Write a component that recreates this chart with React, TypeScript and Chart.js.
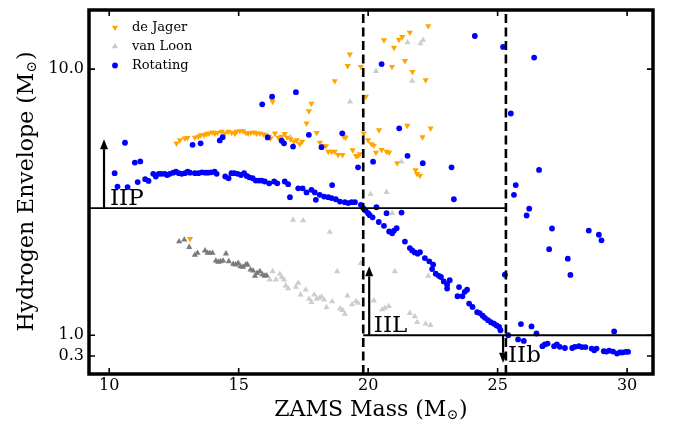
import React, { useEffect, useRef } from "react";
import { Chart, registerables } from "chart.js";

Chart.register(...registerables);

// ---------------- data ----------------
const xMin = 9.22;
const xMax = 31.0;
const yMin = -0.31;
const yMax = 12.0;
const xTicks = [10, 15, 20, 25, 30];
const yTicks = [0.3, 1.0, 10.0];

const deJager: [number, number][] = [
  [12.6, 7.49], [12.73, 7.6], [12.92, 7.66], [13.02, 7.68], [13.31, 7.69], [13.44, 7.72], [13.53, 7.77],
  [13.66, 7.77], [13.76, 7.81], [13.86, 7.83], [13.99, 7.86], [14.08, 7.83], [14.19, 7.85], [14.34, 7.89],
  [14.47, 7.83], [14.6, 7.89], [14.73, 7.85], [14.85, 7.83], [14.92, 7.89], [15.05, 7.91], [15.17, 7.91],
  [15.28, 7.85], [15.37, 7.83], [15.47, 7.85], [15.59, 7.86], [15.69, 7.83], [15.82, 7.83], [15.95, 7.8],
  [16.05, 7.77], [16.17, 7.72], [16.23, 7.66], [16.31, 8.9], [16.4, 7.83], [16.53, 7.69], [16.66, 7.72],
  [16.78, 7.81], [16.87, 7.69], [17.0, 7.63], [17.13, 7.55], [17.24, 7.6], [17.36, 7.47], [17.45, 7.55],
  [17.62, 8.17], [17.71, 8.58], [17.81, 8.84], [18.01, 7.85], [18.14, 7.52], [18.26, 7.4], [18.37, 7.4],
  [18.46, 7.21], [18.59, 7.21], [18.71, 7.21], [18.84, 7.1], [19.01, 7.1], [19.06, 7.72], [19.13, 7.69],
  [18.71, 9.6], [19.21, 10.11], [19.29, 10.5], [19.4, 7.26], [19.53, 7.07], [19.61, 7.07], [19.72, 10.08],
  [19.91, 9.07], [19.68, 7.13], [19.83, 7.83], [20.0, 7.6], [20.13, 7.47], [20.22, 7.42], [20.3, 7.18],
  [20.42, 7.94], [20.52, 7.27], [20.71, 7.21], [20.81, 7.18], [21.12, 6.82], [21.83, 6.59], [21.89, 6.46],
  [22.0, 6.4], [21.51, 8.09], [22.41, 8.0], [22.1, 7.7], [22.32, 11.46], [21.61, 11.24], [20.61, 10.98],
  [21.19, 11.0], [21.32, 11.09], [21.0, 10.73], [21.42, 10.28], [20.92, 10.08], [21.71, 9.91], [22.22, 9.63],
  [13.12, 4.26],
];

const vanLoonDark: [number, number][] = [
  [12.7, 4.17], [12.9, 4.23], [13.09, 3.98], [13.31, 3.72], [13.41, 3.78], [13.7, 3.86], [13.8, 3.78],
  [13.89, 3.78], [13.99, 3.78], [14.12, 3.52], [14.21, 3.48], [14.3, 3.5], [14.4, 3.52], [14.51, 3.76],
  [14.62, 3.5], [14.79, 3.41], [14.88, 3.39], [14.98, 3.44], [15.07, 3.33], [15.17, 3.31], [15.28, 3.39],
  [15.34, 3.39], [15.46, 3.22], [15.56, 3.18], [15.63, 3.01], [15.71, 3.1], [15.82, 3.16], [15.92, 3.05],
  [16.01, 3.01], [16.08, 3.02],
];

const vanLoonLight: [number, number][] = [
  [16.2, 2.88], [16.31, 3.16], [16.44, 2.88], [16.59, 3.07], [16.66, 2.96], [16.75, 2.88], [16.82, 2.68],
  [16.91, 2.58], [17.1, 4.9], [17.49, 4.88], [17.3, 2.77], [17.21, 2.63], [17.39, 2.37], [17.59, 2.54],
  [17.72, 2.23], [17.81, 2.12], [17.92, 2.37], [18.01, 2.23], [18.11, 2.26], [18.2, 2.3], [18.3, 2.2],
  [18.39, 1.94], [18.61, 2.14], [18.52, 4.49], [18.8, 3.16], [18.91, 1.9], [19.01, 1.85], [19.1, 1.72],
  [19.2, 2.34], [19.38, 2.04], [19.53, 2.15], [19.61, 2.09], [19.72, 3.44], [20.93, 5.13], [21.03, 3.16],
  [22.32, 3.01], [20.22, 2.17], [20.54, 1.87], [20.65, 1.92], [20.8, 1.98], [21.61, 1.75], [21.8, 1.64],
  [21.89, 1.44], [22.22, 1.39], [22.41, 1.34], [21.52, 10.9], [22.02, 10.87], [22.12, 10.98], [20.3, 9.93],
  [21.7, 9.6], [21.29, 6.87], [20.09, 5.77], [20.71, 5.84], [19.3, 8.9], [17.0, 7.7],
];

const rotating: [number, number][] = [
  [10.21, 6.48], [10.32, 6.03], [10.71, 6.01], [10.61, 7.51], [10.99, 6.84], [11.2, 6.88], [11.1, 6.18],
  [11.39, 6.28], [11.52, 6.22], [11.7, 6.46], [11.8, 6.37], [11.91, 6.46], [12.02, 6.46], [12.15, 6.46],
  [12.24, 6.42], [12.34, 6.46], [12.47, 6.5], [12.58, 6.53], [12.69, 6.48], [12.8, 6.46], [12.92, 6.48],
  [13.03, 6.53], [13.12, 6.5], [13.31, 6.48], [13.45, 6.48], [13.58, 6.51], [13.71, 6.5], [13.82, 6.5],
  [13.94, 6.51], [14.07, 6.53], [14.15, 6.46], [14.48, 6.37], [14.61, 6.31], [14.72, 6.48], [14.83, 6.48],
  [14.96, 6.46], [15.09, 6.42], [15.21, 6.48], [15.31, 6.39], [15.41, 6.34], [15.54, 6.31], [15.66, 6.23],
  [15.78, 6.23], [15.89, 6.23], [16.01, 6.2], [16.18, 6.14], [16.37, 6.2], [16.49, 6.14], [16.78, 6.2],
  [16.91, 6.11], [16.98, 5.67], [17.3, 5.97], [17.47, 5.97], [17.62, 5.83], [17.81, 5.92], [17.94, 5.83],
  [18.13, 5.75], [18.3, 5.69], [18.46, 5.67], [18.59, 5.64], [18.75, 5.6], [18.91, 5.52], [19.1, 5.5],
  [19.23, 5.47], [19.36, 5.5], [19.49, 5.5], [17.98, 5.58], [18.61, 6.08], [19.72, 5.41],
  [13.22, 7.44], [13.53, 7.49], [14.27, 7.59], [14.38, 7.7], [15.91, 8.81], [16.29, 9.07], [17.21, 9.22],
  [16.12, 7.69], [16.66, 7.58], [16.75, 7.49], [17.1, 7.38], [17.71, 7.78], [18.2, 7.36], [19.0, 7.83],
  [19.61, 6.68], [20.19, 6.87], [20.52, 10.17], [24.12, 11.12], [25.21, 10.75], [26.41, 10.39], [21.2, 8.0],
  [21.52, 7.07], [22.11, 6.82], [23.22, 6.68], [23.31, 5.6], [25.51, 8.5], [26.6, 6.59], [25.7, 6.08],
  [25.63, 5.75], [26.22, 5.28], [26.12, 5.05],
  [19.81, 5.3], [19.9, 5.22], [20.0, 5.13], [20.06, 5.06], [20.17, 4.99], [20.32, 5.33], [20.71, 5.13],
  [21.29, 5.15], [20.41, 4.83], [20.61, 4.7], [20.81, 4.51], [20.93, 4.45], [21.0, 4.54], [21.1, 4.62],
  [21.42, 4.17], [21.61, 3.95], [21.7, 3.87], [21.8, 3.8], [21.91, 3.76], [22.0, 3.81], [22.19, 3.61],
  [22.36, 3.5], [22.51, 3.39], [22.47, 3.24], [22.61, 3.08], [22.73, 3.01], [22.81, 2.97], [22.92, 2.82],
  [23.05, 2.71], [23.05, 2.58], [23.15, 2.86], [23.51, 2.63], [23.45, 2.32], [23.64, 2.32], [23.73, 2.47],
  [23.82, 2.54], [23.9, 2.07], [24.03, 1.96], [24.21, 1.78], [24.31, 1.75], [24.42, 1.66], [24.51, 1.59],
  [24.63, 1.51], [24.74, 1.44], [24.86, 1.39], [24.96, 1.33], [25.06, 1.28], [25.11, 1.17], [25.28, 3.05],
  [27.1, 4.61], [26.99, 3.91], [28.52, 4.54], [28.91, 4.4], [29.01, 4.21], [27.71, 3.59], [27.81, 3.04],
  [25.9, 1.38], [26.31, 1.3], [26.5, 1.06], [25.41, 1.0], [25.79, 0.86], [26.01, 0.81], [29.5, 1.13],
  [26.73, 0.63], [26.82, 0.69], [26.93, 0.72], [27.18, 0.63], [27.29, 0.69], [27.4, 0.61], [27.6, 0.57],
  [27.88, 0.57], [27.98, 0.61], [28.14, 0.63], [28.26, 0.6], [28.39, 0.6], [28.63, 0.55], [28.73, 0.49],
  [28.82, 0.55], [29.1, 0.46], [29.2, 0.45], [29.31, 0.48], [29.46, 0.45], [29.61, 0.38], [29.72, 0.42],
  [29.82, 0.42], [29.95, 0.44], [30.04, 0.44],
];

// class boundaries
const dividerX = [19.81, 25.32];
const iipLevel = 5.3;
const iilLevel = 1.0;
const arrowX = [9.8, 20.04, 25.21];
const arrowFrom = [5.3, 1.0, 1.0];
const arrowTo = [7.63, 3.33, 0.07];
const classNames = ["IIP", "IIL", "IIb"];
const classX = [10.03, 20.22, 25.4];
const classY = [5.4, 1.11, 0.08];

const legendNames = ["de Jager", "van Loon", "Rotating"];
const SERIF = "'DejaVu Serif', serif";

const toPts = (a: [number, number][]) => a.map(([x, y]) => ({ x, y }));

function drawTri(ctx: CanvasRenderingContext2D, x: number, y: number, r: number, down: boolean) {
  const s = down ? -1 : 1;
  ctx.beginPath();
  ctx.moveTo(x, y - s * r);
  ctx.lineTo(x + r * 0.866, y + s * r * 0.5);
  ctx.lineTo(x - r * 0.866, y + s * r * 0.5);
  ctx.closePath();
  ctx.fill();
}

const decorPlugin = {
  id: "decor",
  afterDraw(chart: any) {
    const ctx: CanvasRenderingContext2D = chart.ctx;
    const { left, right, top, bottom } = chart.chartArea;
    const xs = chart.scales.x;
    const ys = chart.scales.y;
    ctx.save();
    // inside ticks
    ctx.strokeStyle = "#000";
    ctx.lineWidth = 1.6;
    ctx.beginPath();
    xTicks.forEach((v) => {
      const px = xs.getPixelForValue(v);
      ctx.moveTo(px, bottom);
      ctx.lineTo(px, bottom - 6);
      ctx.moveTo(px, top);
      ctx.lineTo(px, top + 6);
    });
    yTicks.forEach((v) => {
      const py = ys.getPixelForValue(v);
      ctx.moveTo(left, py);
      ctx.lineTo(left + 6, py);
      ctx.moveTo(right, py);
      ctx.lineTo(right - 6, py);
    });
    ctx.stroke();
    // frame
    ctx.lineWidth = 3.5;
    ctx.strokeRect(left, top, right - left, bottom - top);

    // arrows
    ctx.fillStyle = "#000";
    arrowX.forEach((ax, i) => {
      const px = xs.getPixelForValue(ax);
      const p0 = ys.getPixelForValue(arrowFrom[i]);
      const p1 = ys.getPixelForValue(arrowTo[i]);
      const dir = p1 < p0 ? -1 : 1;
      const headL = 10;
      ctx.lineWidth = 2.2;
      ctx.beginPath();
      ctx.moveTo(px, p0);
      ctx.lineTo(px, p1 - dir * headL);
      ctx.stroke();
      ctx.beginPath();
      ctx.moveTo(px, p1);
      ctx.lineTo(px - 4, p1 - dir * headL);
      ctx.lineTo(px + 4, p1 - dir * headL);
      ctx.closePath();
      ctx.fill();
    });

    // class labels
    ctx.font = `23px ${SERIF}`;
    ctx.textAlign = "left";
    ctx.textBaseline = "alphabetic";
    classNames.forEach((t, i) => {
      ctx.fillText(t, xs.getPixelForValue(classX[i]), ys.getPixelForValue(classY[i]));
    });

    // legend
    const lx = 115;
    const rows = [27.5, 46.5, 65.5];
    ctx.fillStyle = "#ffa500";
    drawTri(ctx, lx, rows[0], 3.6, true);
    ctx.fillStyle = "#c8c8c8";
    drawTri(ctx, lx, rows[1], 3.6, false);
    ctx.fillStyle = "#0000ff";
    ctx.beginPath();
    ctx.arc(lx, rows[2], 2.9, 0, Math.PI * 2);
    ctx.fill();
    ctx.fillStyle = "#000";
    ctx.font = `13px ${SERIF}`;
    ctx.textBaseline = "middle";
    legendNames.forEach((n, i) => ctx.fillText(n, 132, rows[i]));

    // axis titles with subscript sun symbol
    const drawTitle = (main: string, cx: number, cy: number, rot: number) => {
      ctx.save();
      ctx.translate(cx, cy);
      ctx.rotate(rot);
      ctx.textBaseline = "alphabetic";
      ctx.textAlign = "left";
      ctx.font = `22px ${SERIF}`;
      const w1 = ctx.measureText(main).width;
      ctx.font = `14px ${SERIF}`;
      const w2 = ctx.measureText("\u2299").width;
      ctx.font = `22px ${SERIF}`;
      const w3 = ctx.measureText(")").width;
      const total = w1 + w2 + w3 + 1;
      let x = -total / 2;
      ctx.fillText(main, x, 0);
      x += w1;
      ctx.font = `14px ${SERIF}`;
      ctx.fillText("\u2299", x, 3);
      x += w2 + 1;
      ctx.font = `22px ${SERIF}`;
      ctx.fillText(")", x, 0);
      ctx.restore();
    };
    ctx.fillStyle = "#000";
    drawTitle("ZAMS Mass (M", 371, 416, 0);
    drawTitle("Hydrogen Envelope (M", 33, 191.5, -Math.PI / 2);
    ctx.restore();
  },
};

export default function App() {
  const ref = useRef<HTMLCanvasElement | null>(null);
  useEffect(() => {
    if (!ref.current) return;
    const lineDs = (data: { x: number; y: number }[], dash: number[], width: number) => ({
      type: "line" as const,
      data,
      showLine: true,
      borderColor: "#000",
      borderWidth: width,
      borderDash: dash,
      pointRadius: 0,
      fill: false,
      order: 0,
    });
    const chart = new Chart(ref.current, {
      type: "scatter",
      data: {
        datasets: [
          lineDs([{ x: xMin, y: iipLevel }, { x: dividerX[1], y: iipLevel }], [], 1.8) as any,
          lineDs([{ x: dividerX[0], y: iilLevel }, { x: xMax, y: iilLevel }], [], 1.8) as any,
          lineDs([{ x: dividerX[0], y: yMin }, { x: dividerX[0], y: yMax }], [9, 4.5], 2.6) as any,
          lineDs([{ x: dividerX[1], y: yMin }, { x: dividerX[1], y: yMax }], [9, 4.5], 2.6) as any,
          {
            label: "Rotating",
            data: toPts(rotating),
            pointStyle: "circle",
            pointRadius: 2.9,
            backgroundColor: "#0000ff",
            borderWidth: 0,
            order: 1,
          },
          {
            label: "van Loon dark",
            data: toPts(vanLoonDark),
            pointStyle: "triangle",
            pointRadius: 3.6,
            backgroundColor: "#7a7a7a",
            borderWidth: 0,
            order: 2,
          },
          {
            label: "van Loon",
            data: toPts(vanLoonLight),
            pointStyle: "triangle",
            pointRadius: 3.6,
            backgroundColor: "#cdcdcd",
            borderWidth: 0,
            order: 3,
          },
          {
            label: "de Jager",
            data: toPts(deJager),
            pointStyle: "triangle",
            rotation: 180,
            pointRadius: 3.6,
            backgroundColor: "#ffa500",
            borderWidth: 0,
            order: 1.5,
          },
        ] as any,
      },
      options: {
        animation: false,
        responsive: true,
        maintainAspectRatio: false,
        events: [],
        layout: { padding: { top: 10, right: 20, left: 0, bottom: 0 } },
        plugins: { legend: { display: false }, tooltip: { enabled: false } },
        scales: {
          x: {
            type: "linear",
            min: xMin,
            max: xMax,
            grid: { display: false, drawTicks: false },
            border: { display: false },
            ticks: {
              color: "#000",
              font: { family: SERIF, size: 16 },
              padding: 2,
              maxRotation: 0,
              autoSkip: false,
              callback: (v: any) => String(v),
            },
            afterBuildTicks: (s: any) => {
              s.ticks = xTicks.map((v) => ({ value: v }));
            },
            afterFit: (s: any) => {
              s.height = 52;
              s.paddingLeft = 0;
              s.paddingRight = 0;
              s.paddingTop = 0;
              s.paddingBottom = 0;
            },
          },
          y: {
            type: "linear",
            min: yMin,
            max: yMax,
            grid: { display: false, drawTicks: false },
            border: { display: false },
            ticks: {
              color: "#000",
              font: { family: SERIF, size: 16 },
              padding: 5,
              autoSkip: false,
              callback: (v: any) => Number(v).toFixed(1),
            },
            afterBuildTicks: (s: any) => {
              s.ticks = yTicks.map((v) => ({ value: v }));
            },
            afterFit: (s: any) => {
              s.width = 89;
              s.paddingLeft = 0;
              s.paddingRight = 0;
              s.paddingTop = 0;
              s.paddingBottom = 0;
            },
          },
        },
      },
      plugins: [decorPlugin],
    });
    return () => chart.destroy();
  }, []);
  return (
    <div style={{ position: "fixed", left: 0, top: 0, width: 673, height: 426, background: "#fff" }}>
      <canvas ref={ref} />
    </div>
  );
}
